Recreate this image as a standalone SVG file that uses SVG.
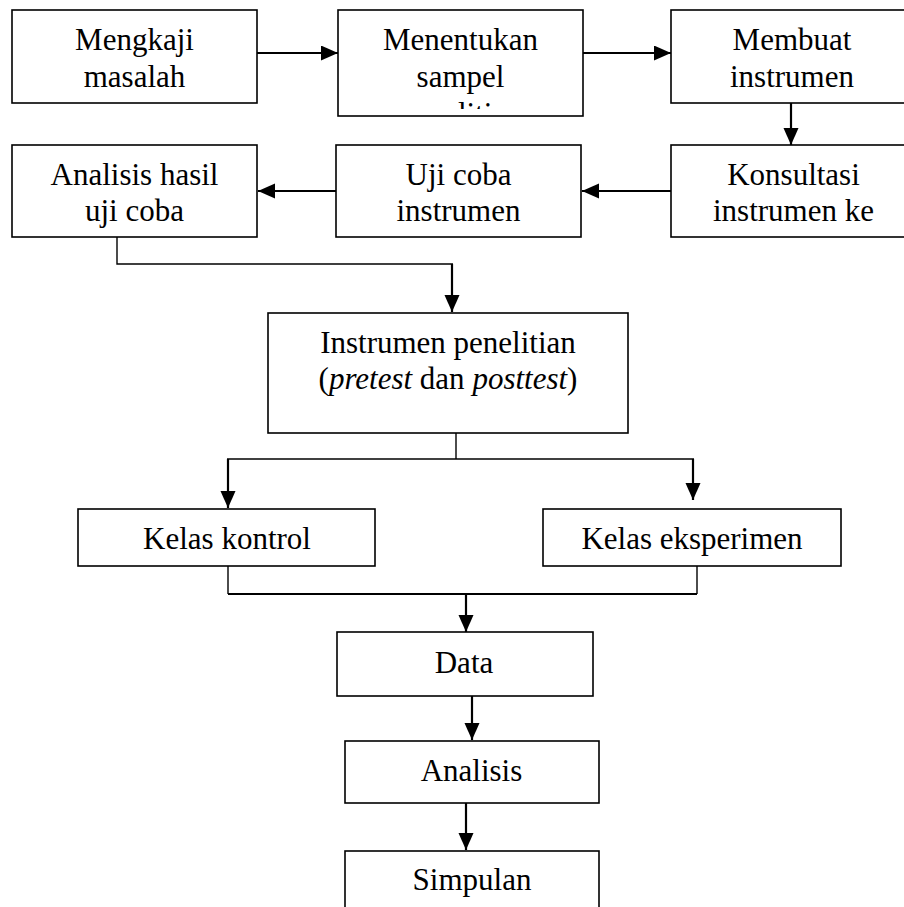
<svg xmlns="http://www.w3.org/2000/svg" width="904" height="907" viewBox="0 0 904 907">
<style>
.box{fill:#fff;stroke:#000;stroke-width:1.6}
.t{font-family:"Liberation Serif","Times New Roman",serif;font-size:31px;fill:#000;text-anchor:middle}
.c{fill:none;stroke:#000;stroke-width:1.4}
.a{fill:none;stroke:#000;stroke-width:2.2}
</style>
<defs>
<marker id="ah" markerUnits="userSpaceOnUse" markerWidth="18" markerHeight="16" refX="17" refY="7.5" orient="auto" viewBox="0 0 18 16">
<path d="M0,0 L17,7.5 L0,15 Z" fill="#000"/>
</marker>
<clipPath id="clip2"><rect x="338" y="0" width="246" height="109"/></clipPath>
</defs>
<rect width="904" height="907" fill="#fff"/>
<g id="connectors">
<line class="a" x1="257" y1="53" x2="338" y2="53" marker-end="url(#ah)"/>
<line class="a" x1="583" y1="53" x2="671" y2="53" marker-end="url(#ah)"/>
<line class="a" x1="791" y1="103" x2="791" y2="145" marker-end="url(#ah)"/>
<line class="a" x1="671" y1="191" x2="582" y2="191" marker-end="url(#ah)"/>
<line class="a" x1="336" y1="191" x2="258" y2="191" marker-end="url(#ah)"/>
<polyline class="c" points="117,237 117,264 453,264"/>
<line class="a" x1="452" y1="264" x2="452" y2="312" marker-end="url(#ah)"/>
<polyline class="c" points="456,433 456,459"/>
<line class="c" x1="227" y1="459" x2="694" y2="459"/>
<line class="a" x1="228" y1="459" x2="228" y2="508" marker-end="url(#ah)"/>
<line class="a" x1="693" y1="459" x2="693" y2="500" marker-end="url(#ah)"/>
<polyline class="c" points="228,566 228,594"/>
<polyline class="c" points="697,566 697,594"/>
<line class="a" x1="228" y1="594" x2="697" y2="594"/>
<line class="a" x1="466" y1="593" x2="466" y2="632" marker-end="url(#ah)"/>
<line class="a" x1="472" y1="696" x2="472" y2="740" marker-end="url(#ah)"/>
<line class="a" x1="466" y1="803" x2="466" y2="850" marker-end="url(#ah)"/>
</g>
<g id="n1">
<rect class="box" x="12" y="10" width="245" height="93"/>
<text class="t" x="134.5" y="50">Mengkaji</text>
<text class="t" x="134.5" y="87">masalah</text>
</g>
<g id="n2">
<rect class="box" x="338" y="10" width="245" height="106"/>
<text class="t" x="460.5" y="50">Menentukan</text>
<text class="t" x="460.5" y="87">sampel</text>
<text class="t" x="460.5" y="124" clip-path="url(#clip2)">penelitian</text>
</g>
<g id="n3">
<rect class="box" x="671" y="10" width="245" height="93"/>
<text class="t" x="792" y="50">Membuat</text>
<text class="t" x="792" y="87">instrumen</text>
</g>
<g id="n4">
<rect class="box" x="671" y="145" width="245" height="92"/>
<text class="t" x="793.5" y="185">Konsultasi</text>
<text class="t" x="793.5" y="221">instrumen ke</text>
</g>
<g id="n5">
<rect class="box" x="336" y="145" width="245" height="92"/>
<text class="t" x="458.5" y="185">Uji coba</text>
<text class="t" x="458.5" y="221">instrumen</text>
</g>
<g id="n6">
<rect class="box" x="12" y="145" width="245" height="92"/>
<text class="t" x="134.5" y="185">Analisis hasil</text>
<text class="t" x="134.5" y="221">uji coba</text>
</g>
<g id="n7">
<rect class="box" x="268" y="313" width="360" height="120"/>
<text class="t" x="448" y="353">Instrumen penelitian</text>
<text class="t" x="448" y="389">(<tspan font-style="italic">pretest</tspan> dan <tspan font-style="italic">posttest</tspan>)</text>
</g>
<g id="n8">
<rect class="box" x="78" y="509" width="297" height="57"/>
<text class="t" x="227" y="549">Kelas kontrol</text>
</g>
<g id="n9">
<rect class="box" x="543" y="509" width="298" height="57"/>
<text class="t" x="692" y="549">Kelas eksperimen</text>
</g>
<g id="n10">
<rect class="box" x="337" y="632" width="256" height="64"/>
<text class="t" x="464" y="673">Data</text>
</g>
<g id="n11">
<rect class="box" x="345" y="741" width="254" height="62"/>
<text class="t" x="471.5" y="781">Analisis</text>
</g>
<g id="n12">
<rect class="box" x="345" y="851" width="254" height="70"/>
<text class="t" x="472" y="890">Simpulan</text>
</g>
</svg>
